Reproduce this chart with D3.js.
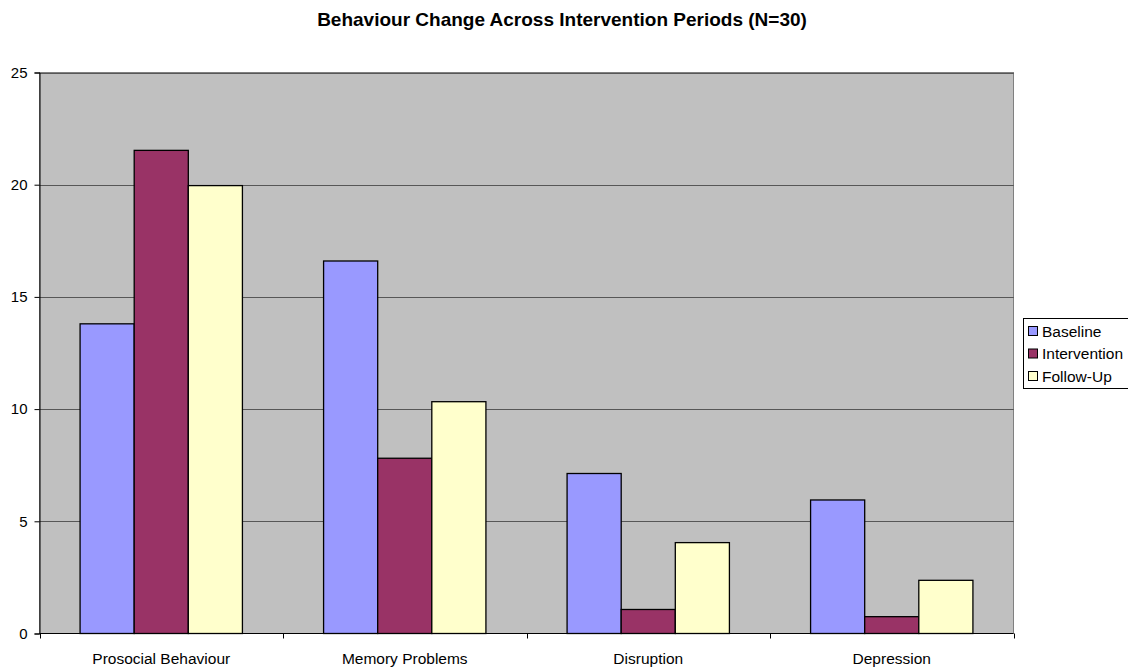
<!DOCTYPE html>
<html>
<head>
<meta charset="utf-8">
<script src="https://cdn.jsdelivr.net/npm/d3@7/dist/d3.min.js"></script>
<style>
  html, body { margin: 0; padding: 0; background: #fff; }
  svg { display: block; font-family: "Liberation Sans", Arial, sans-serif; }
</style>
</head>
<body>
<svg id="chart" width="1128" height="668"></svg>
<script>
const categories = ["Prosocial Behaviour", "Memory Problems", "Disruption", "Depression"];
const seriesNames = ["Baseline", "Intervention", "Follow-Up"];
const baseline = [13.8, 16.6, 7.13, 5.95];
const intervention = [21.53, 7.81, 1.07, 0.75];
const followUp = [19.96, 10.33, 4.05, 2.37];
const yTicks = [0, 5, 10, 15, 20, 25];
const colors = ["#9999ff", "#993366", "#ffffcc"];

const seriesValues = [baseline, intervention, followUp];

const svg = d3.select("#chart");
const plot = { left: 39.5, right: 1013.5, top: 72.5, bottom: 633.5 };

const x0 = d3.scaleBand().domain(categories).range([plot.left, plot.right]).paddingInner(0).paddingOuter(0);
const barW = x0.bandwidth() / 4.5;
const x1 = d3.scaleBand().domain(seriesNames)
  .range([0.75 * barW, 3.75 * barW]).padding(0);
const y = d3.scaleLinear().domain([0, 25]).range([plot.bottom, plot.top]);

// plot background
svg.append("rect")
  .attr("x", plot.left).attr("y", plot.top)
  .attr("width", plot.right - plot.left).attr("height", plot.bottom - plot.top)
  .attr("fill", "#c0c0c0").attr("stroke", "#808080").attr("stroke-width", 1);

// horizontal gridlines
svg.append("g").selectAll("line").data(yTicks.filter(d => d > 0)).join("line")
  .attr("x1", plot.left).attr("x2", plot.right)
  .attr("y1", d => Math.round(y(d)) + 0.5).attr("y2", d => Math.round(y(d)) + 0.5)
  .attr("stroke", "#000").attr("stroke-opacity", 0.55).attr("stroke-width", 1);

// bars
const groups = svg.append("g").selectAll("g").data(categories).join("g")
  .attr("transform", d => `translate(${x0(d)},0)`);
groups.selectAll("rect")
  .data((c, i) => seriesNames.map((s, j) => ({ s, j, v: seriesValues[j][i] })))
  .join("rect")
  .attr("x", d => x1(d.s))
  .attr("y", d => y(d.v))
  .attr("width", x1.bandwidth())
  .attr("height", d => y(0) - y(d.v))
  .attr("fill", d => colors[d.j])
  .attr("stroke", "#000").attr("stroke-width", 1.3);

// y axis
const yAxis = d3.axisLeft(y).tickValues(yTicks).tickSize(5).tickPadding(7).tickFormat(d3.format("d"));
const gy = svg.append("g").attr("transform", `translate(${plot.left},0)`).call(yAxis);
gy.select(".domain").attr("stroke", "#000");
gy.selectAll(".tick line").attr("stroke", "#000");
gy.selectAll("text").attr("font-size", 15).attr("fill", "#000")
  .attr("font-family", "Liberation Sans, Arial, sans-serif");

// x axis: ticks at category boundaries
svg.append("line")
  .attr("x1", plot.left).attr("x2", plot.right)
  .attr("y1", plot.bottom).attr("y2", plot.bottom)
  .attr("stroke", "#000");
const boundaries = categories.map(c => x0(c)).concat([x0(categories[categories.length - 1]) + x0.bandwidth()]);
svg.append("g").selectAll("line").data(boundaries).join("line")
  .attr("x1", d => Math.round(d) + 0.5).attr("x2", d => Math.round(d) + 0.5)
  .attr("y1", plot.bottom).attr("y2", plot.bottom + 5)
  .attr("stroke", "#000");
svg.append("g").selectAll("text").data(categories).join("text")
  .attr("x", d => x0(d) + x0.bandwidth() / 2)
  .attr("y", plot.bottom + 30)
  .attr("text-anchor", "middle")
  .attr("font-size", 15.5)
  .text(d => d);

// title
svg.append("text")
  .attr("x", 562).attr("y", 26)
  .attr("text-anchor", "middle")
  .attr("font-size", 19).attr("font-weight", "bold")
  .text("Behaviour Change Across Intervention Periods (N=30)");

// legend
const legend = svg.append("g").attr("transform", "translate(1023,318)");
legend.append("rect")
  .attr("x", 0.5).attr("y", 0.5).attr("width", 112).attr("height", 70)
  .attr("fill", "#fff").attr("stroke", "#000").attr("stroke-width", 1);
const items = legend.selectAll("g.item").data(seriesNames).join("g")
  .attr("class", "item")
  .attr("transform", (d, i) => `translate(5,${8 + i * 22.5})`);
items.append("rect")
  .attr("x", 0.5).attr("y", 0.5).attr("width", 9).attr("height", 9)
  .attr("fill", (d, i) => colors[i]).attr("stroke", "#000");
items.append("text")
  .attr("x", 14).attr("y", 10.5)
  .attr("font-size", 15.5)
  .text(d => d);
</script>
</body>
</html>
